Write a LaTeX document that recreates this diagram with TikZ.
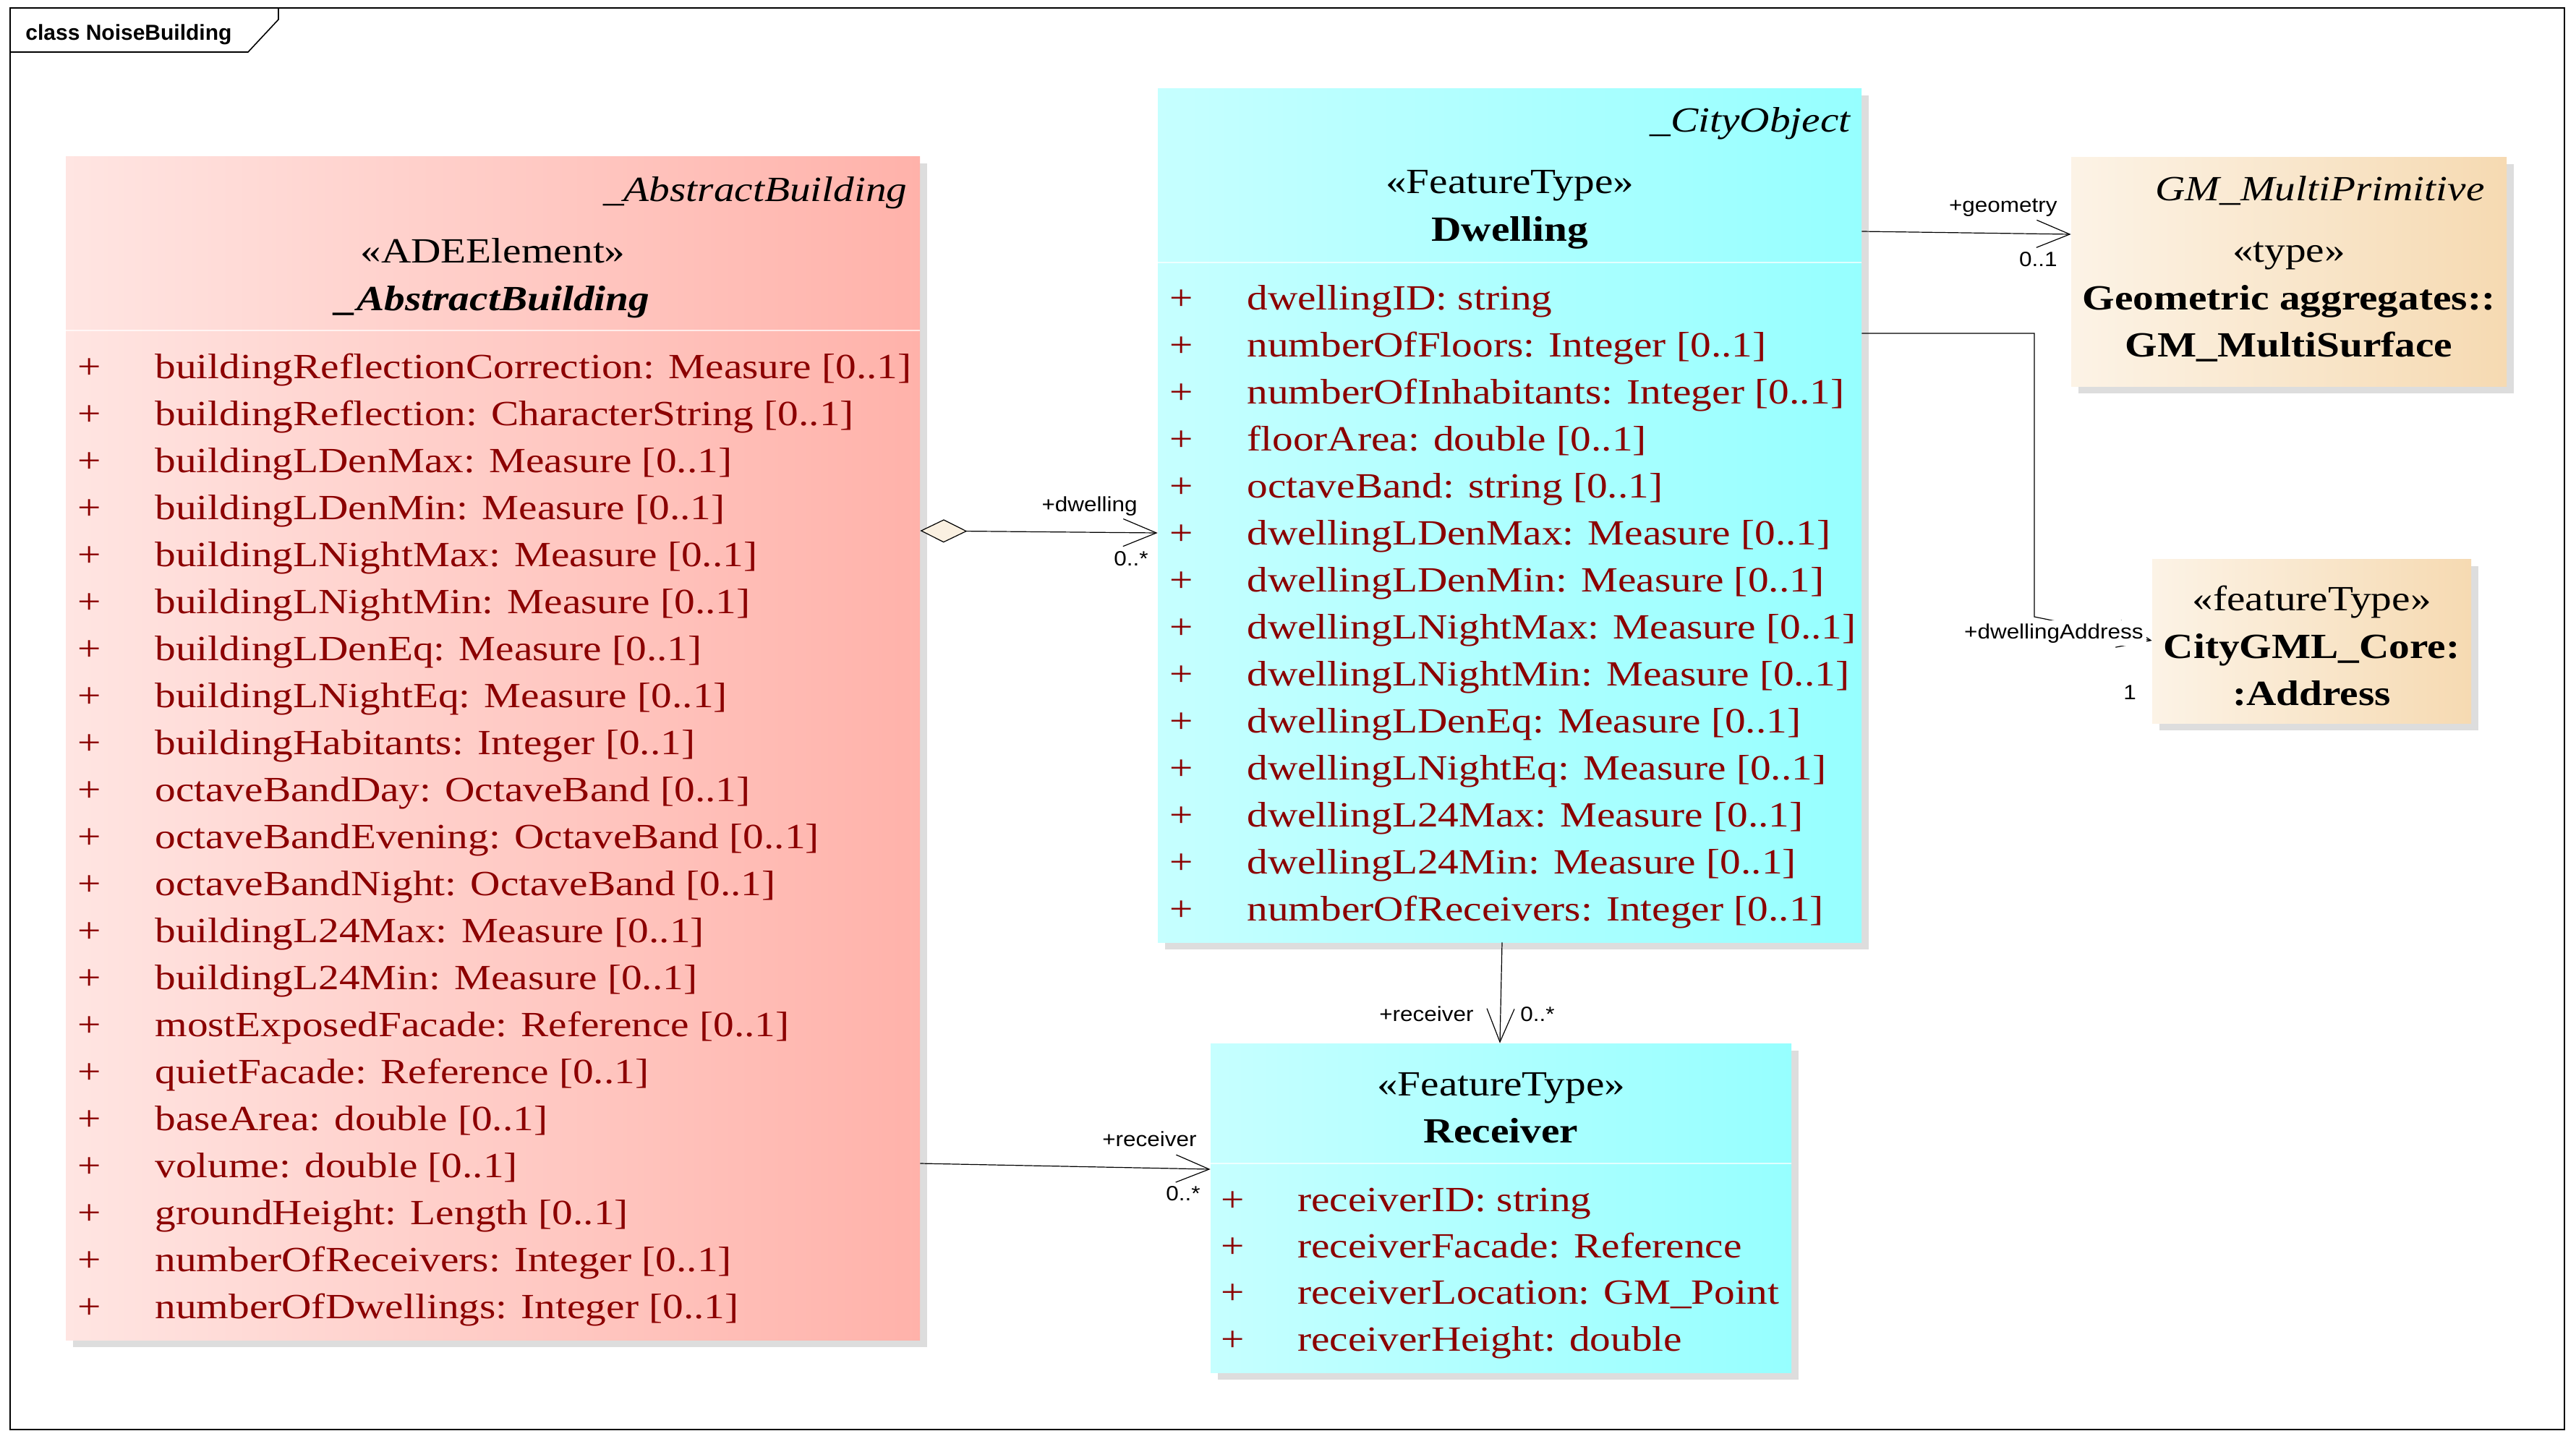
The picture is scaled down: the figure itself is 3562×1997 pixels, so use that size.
\documentclass[tikz,border=0pt]{standalone}
\usepackage{fontspec}
\setmainfont{Liberation Serif}[FakeStretch=1.17]
\newfontfamily\lblfamily{Liberation Sans}[FakeStretch=1.1]
\newfontfamily\ttlfamily{Liberation Sans}
\usetikzlibrary{arrows.meta,fit}

\definecolor{absL}{RGB}{255,229,226}
\definecolor{absR}{RGB}{255,178,170}
\definecolor{cyL}{RGB}{198,255,255}
\definecolor{cyR}{RGB}{150,255,255}
\definecolor{tanL}{RGB}{252,243,230}
\definecolor{tanR}{RGB}{246,218,178}
\definecolor{shadowc}{RGB}{221,221,221}
\definecolor{attrc}{RGB}{139,0,0}
\definecolor{diafill}{RGB}{250,240,225}

\newcommand\attrfont{\fontsize{24.5}{28}\selectfont}
\newcommand\lblfnt{\lblfamily\fontsize{14.3}{16}\selectfont}
\newcommand\ttlfnt{\ttlfamily\bfseries\fontsize{15}{18}\selectfont}

\begin{document}
\begin{tikzpicture}[x=0.5pt,y=-0.5pt,
  every node/.style={inner sep=0pt},
  framestyle/.style={line width=0.8pt, draw=black},
  umlbox/.style={rectangle, inner sep=0pt, draw=none},
  pinkbox/.style={umlbox, left color=absL, right color=absR},
  cyanbox/.style={umlbox, left color=cyL, right color=cyR},
  tanbox/.style={umlbox, left color=tanL, right color=tanR},
  boxshadow/.style={fill=shadowc},
  sepline/.style={draw=white, line width=0.6pt, opacity=0.7},
  hdr/.style={font=\attrfont, anchor=base},
  hdrname/.style={font=\attrfont\bfseries, anchor=base},
  hdrit/.style={font=\attrfont\itshape, anchor=base east},
  plus/.style={font=\attrfont, text=attrc, anchor=base},
  attr/.style={font=\attrfont, text=attrc, anchor=base west},
  lbl/.style={font=\lblfnt, text=black},
  conn/.style={line width=0.6pt, -{Straight Barb[length=23pt,width=19pt]}},
  aggr/.style={line width=0.6pt, {Diamond[length=32.5pt,width=16pt,fill=diafill]}-{Straight Barb[length=23pt,width=19pt]}},
]
\useasboundingbox (0,0) rectangle (3562,1997);
\fill[white] (0,0) rectangle (3562,1997);

% frame
\draw[framestyle] (14,11) rectangle (3546,1977);
\draw[framestyle] (14,72) -- (343,72) -- (385,27) -- (385,11);
\node[font=\ttlfnt, anchor=base west] (title) at (35,55) {class NoiseBuilding};

% _AbstractBuilding
\fill[boxshadow] (101,226) rectangle (1282,1863);
\node[pinkbox, fit={(91,216) (1272,1853)}] (abs) {};
\draw[sepline] (abs.west |- 0,457) -- (abs.east |- 0,457);
\node[hdrit] (absSup) at (1255,278) {\_AbstractBuilding};
\node[hdr] (absSt) at (681.5,363) {«ADEElement»};
\node[hdrname, font=\attrfont\bfseries\itshape] (absN) at (681.5,429) {\_AbstractBuilding};
\foreach \txt [count=\i from 0] in {
  {buildingReflectionCorrection: Measure [0..1]},
  {buildingReflection: CharacterString [0..1]},
  {buildingLDenMax: Measure [0..1]},
  {buildingLDenMin: Measure [0..1]},
  {buildingLNightMax: Measure [0..1]},
  {buildingLNightMin: Measure [0..1]},
  {buildingLDenEq: Measure [0..1]},
  {buildingLNightEq: Measure [0..1]},
  {buildingHabitants: Integer [0..1]},
  {octaveBandDay: OctaveBand [0..1]},
  {octaveBandEvening: OctaveBand [0..1]},
  {octaveBandNight: OctaveBand [0..1]},
  {buildingL24Max: Measure [0..1]},
  {buildingL24Min: Measure [0..1]},
  {mostExposedFacade: Reference [0..1]},
  {quietFacade: Reference [0..1]},
  {baseArea: double [0..1]},
  {volume: double [0..1]},
  {groundHeight: Length [0..1]},
  {numberOfReceivers: Integer [0..1]},
  {numberOfDwellings: Integer [0..1]}}{
  \node[plus] (absp\i) at (124,523+65*\i) {+};
  \node[attr] (absa\i) at (214,523+65*\i) {\txt};
}

% Dwelling
\fill[boxshadow] (1611,132) rectangle (2584,1313);
\node[cyanbox, fit={(1601,122) (2574,1303)}] (dw) {};
\draw[sepline] (dw.west |- 0,363) -- (dw.east |- 0,363);
\node[hdrit] (dwSup) at (2559,182) {\_CityObject};
\node[hdr] (dwSt) at (2087.5,267) {«FeatureType»};
\node[hdrname] (dwN) at (2087.5,333) {Dwelling};
\foreach \txt [count=\i from 0] in {
  {dwellingID: string},
  {numberOfFloors: Integer [0..1]},
  {numberOfInhabitants: Integer [0..1]},
  {floorArea: double [0..1]},
  {octaveBand: string [0..1]},
  {dwellingLDenMax: Measure [0..1]},
  {dwellingLDenMin: Measure [0..1]},
  {dwellingLNightMax: Measure [0..1]},
  {dwellingLNightMin: Measure [0..1]},
  {dwellingLDenEq: Measure [0..1]},
  {dwellingLNightEq: Measure [0..1]},
  {dwellingL24Max: Measure [0..1]},
  {dwellingL24Min: Measure [0..1]},
  {numberOfReceivers: Integer [0..1]}}{
  \node[plus] (dwp\i) at (1634,428+65*\i) {+};
  \node[attr] (dwa\i) at (1724,428+65*\i) {\txt};
}

% Receiver
\fill[boxshadow] (1684,1453) rectangle (2487,1908);
\node[cyanbox, fit={(1674,1443) (2477,1898)}] (rc) {};
\draw[sepline] (rc.west |- 0,1609) -- (rc.east |- 0,1609);
\node[hdr] (rcSt) at (2075.5,1515) {«FeatureType»};
\node[hdrname] (rcN) at (2075.5,1580) {Receiver};
\foreach \txt [count=\i from 0] in {
  {receiverID: string},
  {receiverFacade: Reference},
  {receiverLocation: GM\_Point},
  {receiverHeight: double}}{
  \node[plus] (rcp\i) at (1705,1675+64.4*\i) {+};
  \node[attr] (rca\i) at (1794,1675+64.4*\i) {\txt};
}

% GM_MultiSurface
\fill[boxshadow] (2874,227) rectangle (3476,544);
\node[tanbox, fit={(2864,217) (3466,534)}] (gm) {};
\node[hdrit] (gmSup) at (3436,277) {GM\_MultiPrimitive};
\node[hdr] (gmSt) at (3165,362) {«type»};
\node[hdrname] (gmN1) at (3165,428) {Geometric aggregates::};
\node[hdrname] (gmN2) at (3165,493) {GM\_MultiSurface};

% Address
\fill[boxshadow] (2986,783) rectangle (3427,1010);
\node[tanbox, fit={(2976,773) (3417,1000)}] (addr) {};
\node[hdr] (adSt) at (3196.5,844) {«featureType»};
\node[hdrname] (adN1) at (3196.5,910) {CityGML\_Core:};
\node[hdrname] (adN2) at (3196.5,975) {:Address};

% connectors
\draw[aggr] (abs.east |- 0,734) -- (dw.west |- 0,737);
\draw[conn] (dw.east |- 0,320) -- (gm.west |- 0,324);
\draw[conn] (dw.east |- 0,461) -- (2813,461) -- (2813,853) -- (addr.west |- 0,886);
\draw[conn] (dw.south -| 2077,0) -- (rc.north -| 2074,0);
\draw[conn] (abs.east |- 0,1609) -- (rc.west |- 0,1617);

% connector labels
\node[lbl, anchor=base east] (lDw) at (1573,707) {+dwelling};
\node[lbl, anchor=base east] (lDwM) at (1588,782) {0..*};
\node[lbl, anchor=base east] (lGeo) at (2845,293) {+geometry};
\node[lbl, anchor=base east] (lGeoM) at (2845,368) {0..1};
\node[lbl, anchor=base east, fill=white, inner sep=2pt] (lAd) at (2968,883) {+dwellingAddress};
\node[lbl, anchor=base] (lAdM) at (2945,967) {1};
\node[lbl, anchor=base east] (lRc1) at (2038,1412) {+receiver};
\node[lbl, anchor=base west] (lRc1M) at (2102,1412) {0..*};
\node[lbl, anchor=base east] (lRc2) at (1655,1585) {+receiver};
\node[lbl, anchor=base east] (lRc2M) at (1660,1660) {0..*};
\end{tikzpicture}
\end{document}
